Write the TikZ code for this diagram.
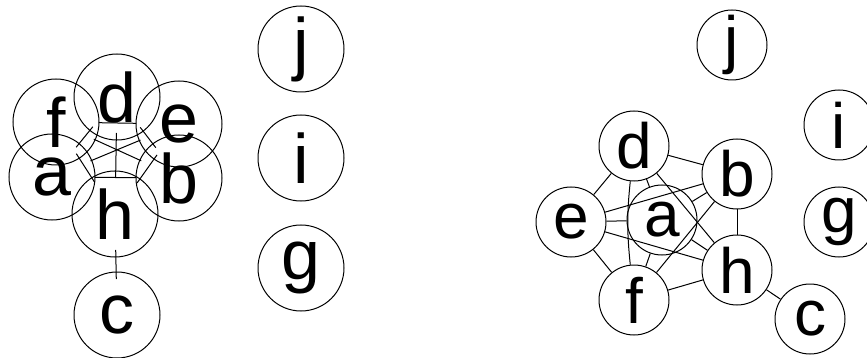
\documentclass[tikz,border=0pt]{standalone}
\usepackage{fontspec}
\setmainfont{Liberation Sans}
\usetikzlibrary{shapes.geometric}
\begin{document}
\begin{tikzpicture}[x=1pt,y=-1pt,line width=1pt,
  lclip/.style={ellipse,minimum width=86pt,minimum height=72pt,inner sep=0pt,outer sep=0pt},
  ltxt/.style={font=\fontsize{70}{70}\selectfont,inner sep=0pt,outer sep=0pt},
  rnode/.style={circle,draw,minimum size=70pt,inner sep=0pt,font=\fontsize{64}{64}\selectfont},
  conn/.style={draw,line width=1pt}]
\useasboundingbox (0,0) rectangle (867,358);
% left layout
\node[lclip,label={[ltxt]center:d}] (ld) at (117,97) {};
\node[lclip,label={[ltxt]center:f}] (lf) at (56,122) {};
\node[lclip,label={[ltxt]center:e}] (le) at (179,124) {};
\node[lclip,label={[ltxt]center:a}] (la) at (52,177) {};
\node[lclip,label={[ltxt]center:b}] (lb) at (179,178) {};
\node[lclip,label={[ltxt]center:h}] (lh) at (115,214) {};
\node[lclip,label={[ltxt]center:c}] (lc) at (117,315) {};
\node[lclip,label={[ltxt]center:j}] (lj) at (301,49) {};
\node[lclip,label={[ltxt]center:i}] (li) at (301,158) {};
\node[lclip,label={[ltxt]center:g}] (lg) at (301,268) {};
\foreach \n in {ld,lf,le,la,lb,lh,lc,lj,li,lg}
  \draw (\n.center) circle[radius=43pt];
\foreach \s/\t in {ld/lb,ld/la,ld/lh,lb/la,lb/lf,le/la,le/lh,le/lf,lf/lh,lh/lc}
  \path[conn] (\s) -- (\t);
% right layout
\node[rnode] (rd) at (634,146) {d};
\node[rnode] (rb) at (737,174) {b};
\node[rnode] (re) at (571,222) {e};
\node[rnode] (ra) at (662,220) {a};
\node[rnode] (rh) at (737,270) {h};
\node[rnode] (rf) at (634,300) {f};
\node[rnode] (rc) at (810,319) {c};
\node[rnode] (rj) at (732,45) {j};
\node[rnode] (ri) at (839,125) {i};
\node[rnode] (rg) at (839,222) {g};
\foreach \s/\t in {rd/rb,rd/re,rd/ra,rd/rh,rb/re,rb/ra,rb/rf,rb/rh,re/ra,re/rh,re/rf,ra/rf,ra/rh,rf/rh,rh/rc}
  \path[conn] (\s) -- (\t);
\path[conn] (rd) to[bend right=6] (rf);
\end{tikzpicture}
\end{document}
